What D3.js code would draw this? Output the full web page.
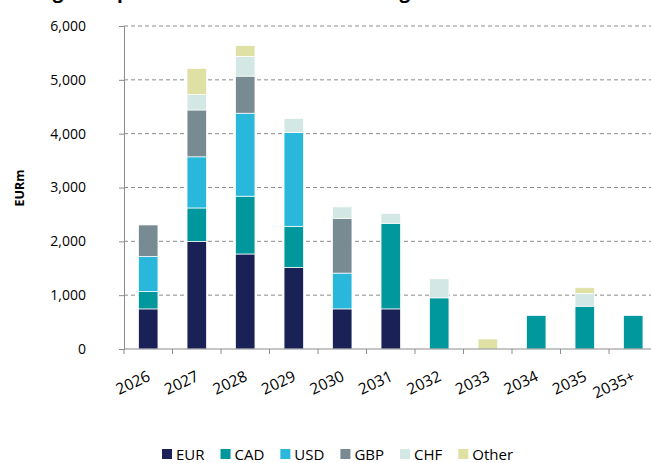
<!DOCTYPE html>
<html>
<head>
<meta charset="utf-8">
<script src="https://cdnjs.cloudflare.com/ajax/libs/d3/7.8.5/d3.min.js"></script>
<style>
  body { margin: 0; background: #fff; }
  svg { display: block; font-family: "Open Sans", sans-serif; }
</style>
</head>
<body>
<svg width="651" height="463"></svg>
<script>
// data (EURm)
var years = ["2026", "2027", "2028", "2029", "2030", "2031", "2032", "2033", "2034", "2035", "2035+"];
var eur   = [745, 2000, 1765, 1515, 745, 745, 0, 0, 0, 0, 0];
var cad   = [323, 620, 1074, 764, 0, 1590, 950, 0, 621, 795, 621];
var usd   = [652, 950, 1541, 1740, 665, 0, 0, 0, 0, 0, 0];
var gbp   = [584, 870, 689, 0, 1018, 0, 0, 0, 0, 0, 0];
var chf   = [0, 285, 367, 261, 212, 180, 354, 0, 0, 235, 0];
var other = [0, 485, 198, 0, 0, 0, 0, 186, 0, 107, 0];
var seriesNames = ["EUR", "CAD", "USD", "GBP", "CHF", "Other"];
var seriesColors = ["#1a2157", "#00979d", "#29b8dc", "#798b92", "#d3e8e4", "#dfe0a3"];
var yTicks = [0, 1000, 2000, 3000, 4000, 5000, 6000];

var svg = d3.select("svg");
var plotLeft = 124, plotRight = 657.5, plotTop = 26, plotBottom = 349;

// rows for d3.stack
var table = years.map(function(yr, i) {
  return { year: yr, EUR: eur[i], CAD: cad[i], USD: usd[i], GBP: gbp[i], CHF: chf[i], Other: other[i] };
});
var stacked = d3.stack().keys(seriesNames)(table);

var x = d3.scaleBand().domain(years).range([plotLeft, plotRight]).paddingInner(0.6).paddingOuter(0.3);
var xb = d3.scaleBand().domain(years).range([plotLeft, plotRight]);   // tick marks at band edges
var y = d3.scaleLinear().domain([0, 6000]).range([plotBottom, plotTop]);
var color = d3.scaleOrdinal().domain(seriesNames).range(seriesColors);

// title, cut off by the top edge
svg.append("text")
  .attr("x", -55).attr("y", -2.5)
  .attr("font-size", 19).attr("font-weight", "bold")
  .text("Outstanding debt profile of bonds and borrowings");

// grid
svg.append("g").selectAll("line")
  .data(yTicks.filter(function(d) { return d > 0; }))
  .enter().append("line")
  .attr("x1", plotLeft).attr("x2", 651)
  .attr("y1", function(d) { return y(d); }).attr("y2", function(d) { return y(d); })
  .attr("stroke", "#8c8c8c").attr("stroke-width", 1).attr("stroke-dasharray", "4,3");

// bars
svg.append("g").selectAll("g")
  .data(stacked)
  .enter().append("g")
  .attr("fill", function(d) { return color(d.key); })
  .selectAll("rect")
  .data(function(d) { return d.filter(function(p) { return p[1] - p[0] > 0; }); })
  .enter().append("rect")
  .attr("x", function(d) { return x(d.data.year); })
  .attr("width", x.bandwidth())
  .attr("y", function(d) { return y(d[1]); })
  .attr("height", function(d) { return y(d[0]) - y(d[1]); })
  .attr("stroke", "#fff").attr("stroke-width", 0.7);

// y axis
var yAxis = svg.append("g")
  .attr("transform", "translate(" + plotLeft + ",0)")
  .call(d3.axisLeft(y).tickValues(yTicks).tickSize(5).tickPadding(33).tickFormat(d3.format(",")));
yAxis.select(".domain").attr("stroke", "#8c8c8c");
yAxis.selectAll(".tick line").attr("stroke", "#8c8c8c");
yAxis.selectAll("text").attr("font-size", 14).attr("font-family", "Open Sans").attr("fill", "#000");

// x axis: baseline and ticks at band edges
svg.append("line")
  .attr("x1", plotLeft).attr("x2", 651).attr("y1", plotBottom).attr("y2", plotBottom)
  .attr("stroke", "#8c8c8c");
svg.append("g").selectAll("line")
  .data(years)
  .enter().append("line")
  .attr("x1", function(d) { return xb(d); }).attr("x2", function(d) { return xb(d); })
  .attr("y1", plotBottom).attr("y2", plotBottom + 5)
  .attr("stroke", "#8c8c8c");
svg.append("g").selectAll("text")
  .data(years)
  .enter().append("text")
  .attr("transform", function(d) { return "translate(" + (x(d) + x.bandwidth() / 2 + 3) + ",380) rotate(-25)"; })
  .attr("text-anchor", "end")
  .attr("font-size", 15.5)
  .text(function(d) { return d; });

// axis title
svg.append("text")
  .attr("transform", "translate(24,188) rotate(-90)")
  .attr("text-anchor", "middle")
  .attr("font-size", 12.5).attr("font-weight", "bold")
  .text("EURm");

// legend
var lx = 162;
var legend = svg.append("g");
seriesNames.forEach(function(name, i) {
  legend.append("rect")
    .attr("x", lx).attr("y", 449).attr("width", 10).attr("height", 10)
    .attr("fill", seriesColors[i]);
  var t = legend.append("text")
    .attr("x", lx + 14).attr("y", 459.5)
    .attr("font-size", 15)
    .text(name);
  lx += 14 + t.node().getComputedTextLength() + 16;
});
</script>
</body>
</html>
